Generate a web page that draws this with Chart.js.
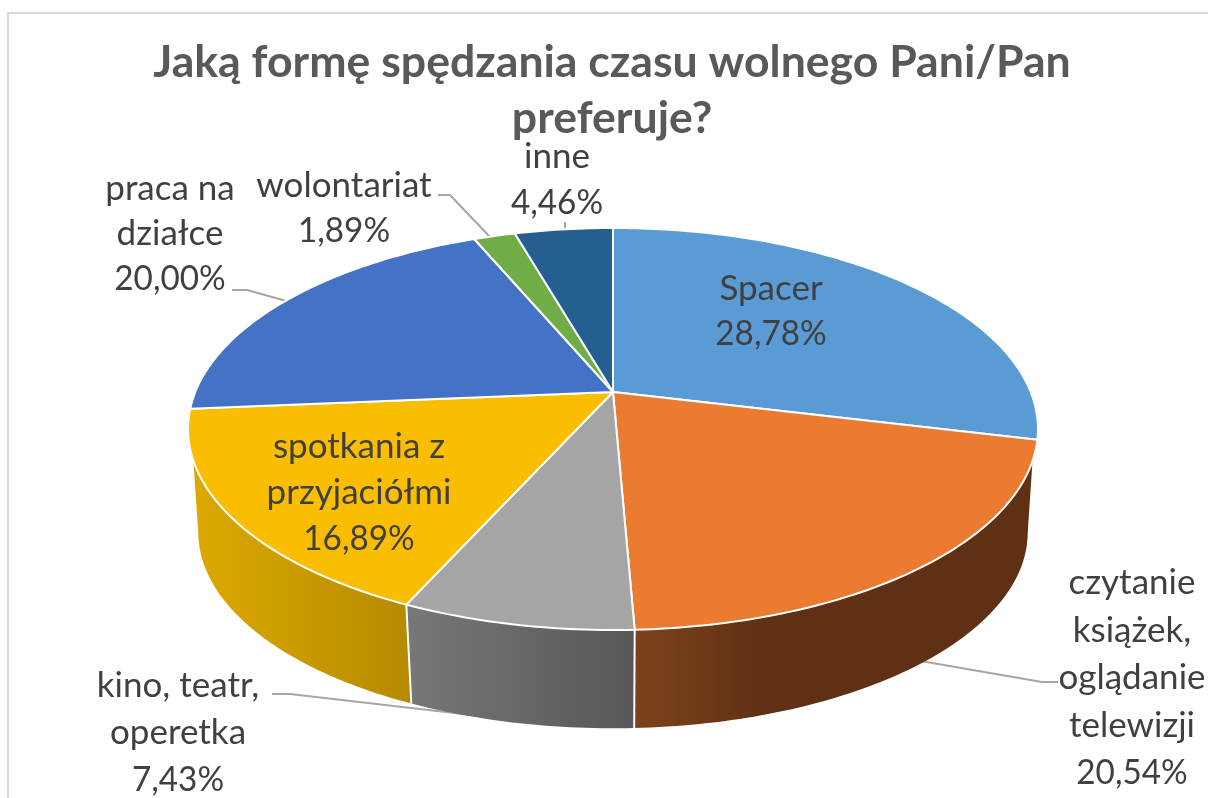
<!DOCTYPE html>
<html>
<head>
<meta charset="utf-8">
<title>Czas wolny</title>
<script src="https://cdn.jsdelivr.net/npm/chart.js@4"></script>
<style>
  body { margin: 0; background: #fff; }
  canvas { display: block; }
</style>
</head>
<body>
<canvas id="wolnyCzas" width="1208" height="798"></canvas>
<script>
/* eslint-disable no-undef */
const categories = ['Spacer', 'czytanie książek, oglądanie telewizji', 'kino, teatr, operetka',
  'spotkania z przyjaciółmi', 'praca na działce', 'wolontariat', 'inne'];
const values = [28.78, 20.54, 7.43, 16.89, 20.00, 1.89, 4.46];
const titleLines = ['Jaką formę spędzania czasu wolnego Pani/Pan', 'preferuje?'];
const topColors = ['#5B9BD5', '#EB7B31', '#A5A5A5', '#FBBD00', '#4472C4', '#70AD47', '#255E91'];
const sideLeft = [null, '#7d421b', '#777777', '#dca800', null, null, null];
const sideRight = [null, '#5f3013', '#575757', '#b58a00', null, null, null];
const labelNames = [['Spacer'], ['czytanie', 'książek,', 'oglądanie', 'telewizji'], ['kino, teatr,', 'operetka'],
  ['spotkania z', 'przyjaciółmi'], ['praca na', 'działce'], ['wolontariat'], ['inne']];

// where each label block sits: centre x, first baseline y, line height
const labelBoxes = [
  [771, 300, 45], [1132, 594, 47.5], [178, 697, 47], [359, 458, 46],
  [170, 200, 45], [344, 197, 45], [557, 168, 46],
];
const leaders = [
  null,
  [[1058, 682], [1042, 682], [915, 660]],
  [[272, 694], [290, 694], [515, 720]],
  null,
  [[232, 290], [247, 290], [290, 302]],
  [[438, 195], [450, 195], [490, 237]],
  [[565, 222], [565, 230]],
];

// rough perspective of the tilted disc, fitted to the picture
const cx = 613, cy = 392, rx = 417.7, ry = 194.2, persp = 0.184;
const depth = 104, shrink = 0.976;

function rim(angle, lower) {
  const u = Math.cos(angle), v = Math.sin(angle);
  const w = 1 - persp * v;
  let x = rx * u / w, y = ry * v / w;
  if (lower) { x *= shrink; y = y * shrink + depth; }
  return [cx + x, cy + y];
}

function arcPoints(a0, a1, lower) {
  const n = Math.max(2, Math.ceil(Math.abs(a1 - a0) * 60));
  const pts = [];
  for (let i = 0; i <= n; i++) pts.push(rim(a0 + (a1 - a0) * i / n, lower));
  return pts;
}

function trace(ctx, pts) {
  pts.forEach((p, i) => (i ? ctx.lineTo(p[0], p[1]) : ctx.moveTo(p[0], p[1])));
}

const disc3d = {
  id: 'disc3d',
  beforeDraw(chart) {
    const ctx = chart.ctx;
    ctx.save();
    ctx.fillStyle = '#fff';
    ctx.fillRect(0, 0, chart.width, chart.height);
    ctx.strokeStyle = '#d9d9d9';
    ctx.lineWidth = 2;
    ctx.beginPath();
    ctx.moveTo(8, 810);
    ctx.lineTo(8, 13);
    ctx.lineTo(1220, 13);
    ctx.stroke();
    ctx.restore();
  },
  beforeDatasetsDraw(chart) {
    const ctx = chart.ctx;
    const arcs = chart.getDatasetMeta(0).data;
    ctx.save();
    ctx.lineJoin = 'round';

    // leader lines go under the disc
    ctx.strokeStyle = '#a6a6a6';
    ctx.lineWidth = 2;
    leaders.forEach(line => {
      if (!line) return;
      ctx.beginPath();
      trace(ctx, line);
      ctx.stroke();
    });

    // side wall, only the slices that have a colour for it
    arcs.forEach((arc, i) => {
      if (!sideLeft[i]) return;
      const first = arc.startAngle < 0.5;
      const top = arcPoints(first ? 0.34 : arc.startAngle, Math.min(arc.endAngle, 3.05), false);
      const low = arcPoints(first ? 0.185 : arc.startAngle, Math.min(arc.endAngle, 2.956), true);
      const xs = low.map(p => p[0]);
      const g = ctx.createLinearGradient(Math.min(...xs), 0, first ? 770 : Math.max(...xs), 0);
      g.addColorStop(0, sideLeft[i]);
      g.addColorStop(1, sideRight[i]);
      ctx.beginPath();
      trace(ctx, top);
      low.slice().reverse().forEach(p => ctx.lineTo(p[0], p[1]));
      ctx.closePath();
      ctx.fillStyle = g;
      ctx.fill();
    });

    // white seams between wall pieces
    ctx.strokeStyle = '#fff';
    ctx.lineWidth = 2;
    arcs.forEach(arc => {
      if (arc.endAngle > 1 && arc.endAngle < 2.9) {
        const a = rim(arc.endAngle, false), b = rim(arc.endAngle, true);
        ctx.beginPath();
        ctx.moveTo(a[0], a[1]);
        ctx.lineTo(b[0], b[1]);
        ctx.stroke();
      }
    });

    // top face
    arcs.forEach((arc, i) => {
      ctx.beginPath();
      ctx.moveTo(cx, cy);
      arcPoints(arc.startAngle, arc.endAngle, false).forEach(p => ctx.lineTo(p[0], p[1]));
      ctx.closePath();
      ctx.fillStyle = topColors[i];
      ctx.fill();
      ctx.strokeStyle = '#fff';
      ctx.lineWidth = 2;
      ctx.stroke();
    });
    ctx.restore();
    return false;
  },
  afterDraw(chart) {
    const ctx = chart.ctx;
    ctx.save();
    ctx.fillStyle = '#404040';
    ctx.font = '35px Lato, sans-serif';
    ctx.textAlign = 'center';
    ctx.textBaseline = 'alphabetic';
    labelNames.forEach((names, i) => {
      const box = labelBoxes[i];
      names.forEach((t, k) => ctx.fillText(t, box[0], box[1] + k * box[2]));
      // Lato digits run wider than the original font, squeeze the percent line a bit
      const pct = values[i].toFixed(2).replace('.', ',') + '%';
      ctx.fillText(pct, box[0], box[1] + names.length * box[2], ctx.measureText(pct).width * 0.95);
    });
    ctx.restore();
  },
};

new Chart(document.getElementById('wolnyCzas'), {
  type: 'pie',
  data: {
    labels: categories,
    datasets: [{
      data: values,
      backgroundColor: topColors,
      borderColor: '#fff',
      borderWidth: 2,
    }],
  },
  options: {
    responsive: false,
    animation: false,
    layout: { padding: { left: 16, top: 34 } },
    plugins: {
      legend: { display: false },
      tooltip: { enabled: false },
      title: {
        display: true,
        text: titleLines,
        color: '#595959',
        font: { family: 'Lato, sans-serif', size: 44.6, weight: 'bold', lineHeight: 1.27 },
        padding: 0,
      },
    },
  },
  plugins: [disc3d],
});
</script>
</body>
</html>
